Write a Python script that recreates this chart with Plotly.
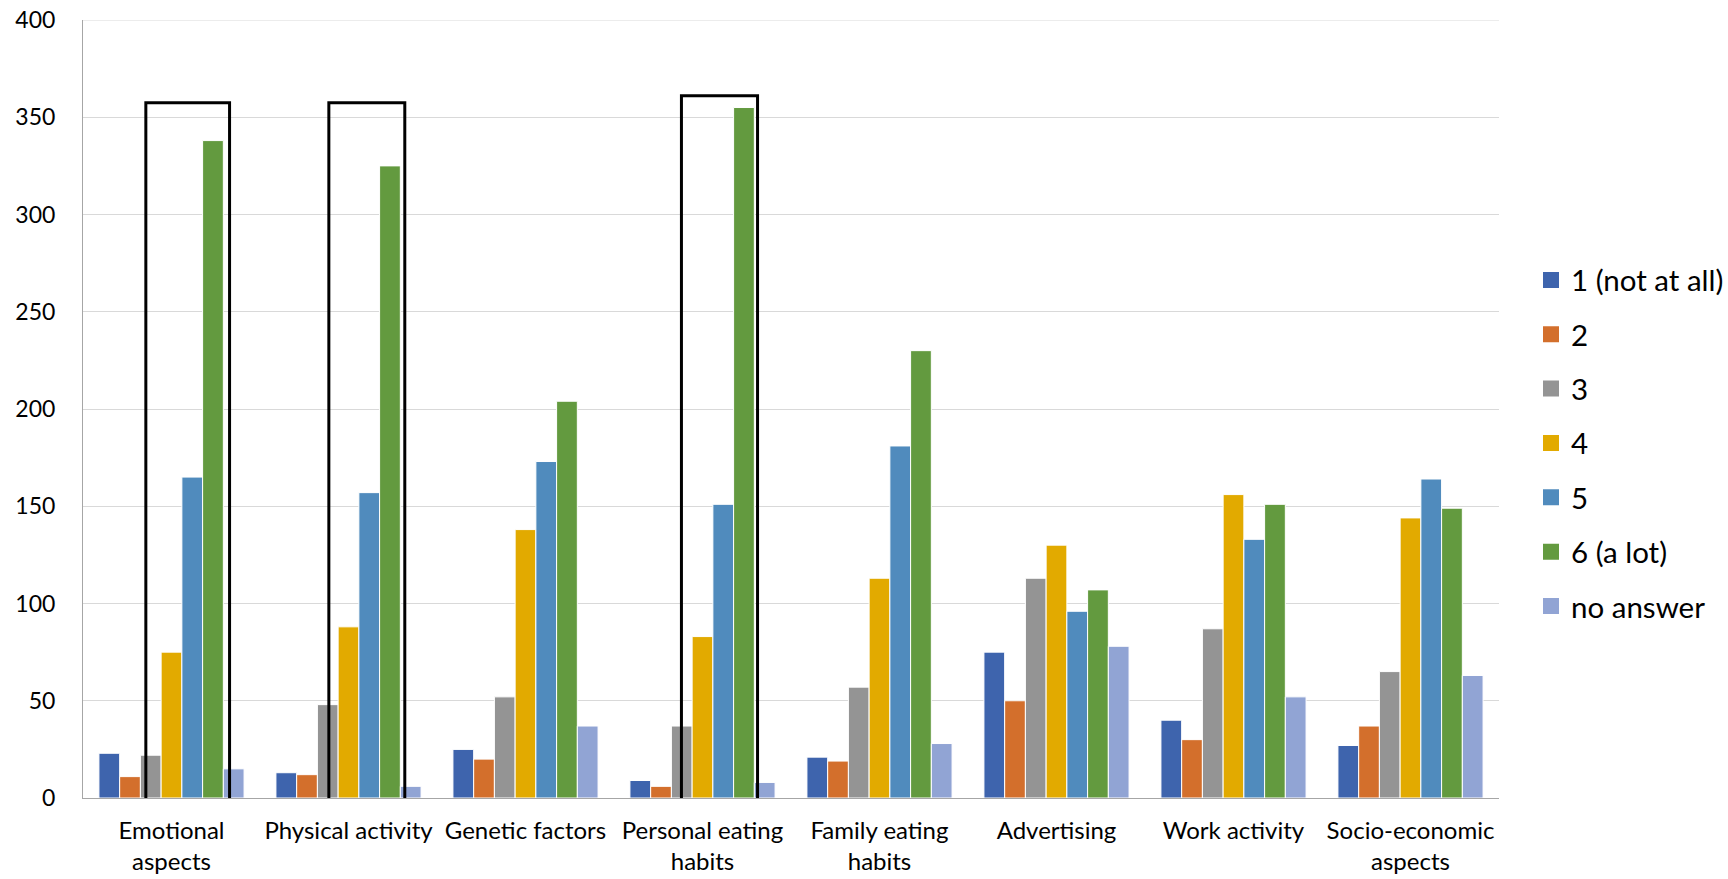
import plotly.graph_objects as go

categories = ["Emotional<br>aspects", "Physical activity", "Genetic factors",
              "Personal eating<br>habits", "Family eating<br>habits", "Advertising",
              "Work activity", "Socio-economic<br>aspects"]

s1 = [23, 13, 25, 9, 21, 75, 40, 27]
s2 = [11, 12, 20, 6, 19, 50, 30, 37]
s3 = [22, 48, 52, 37, 57, 113, 87, 65]
s4 = [75, 88, 138, 83, 113, 130, 156, 144]
s5 = [165, 157, 173, 151, 181, 96, 133, 164]
s6 = [338, 325, 204, 355, 230, 107, 151, 149]
s_na = [15, 6, 37, 8, 28, 78, 52, 63]

series_names = ["1 (not at all)", "2", "3", "4", "5", "6 (a lot)", "no answer"]
series_values = [s1, s2, s3, s4, s5, s6, s_na]
colors = ["#3E64AD", "#D36F2C", "#949494", "#E2AA00", "#508BBD", "#639A3F", "#91A4D4"]

y_max = 400

# highlighted categories (index) with box extents (offset in category units, value range)
box_cats = [0, 1, 3]
box_left = [-0.145, -0.111, -0.119]
box_right = [0.328, 0.318, 0.311]
box_top = [357.5, 357.5, 361]
box_bottom = [-6.2, -7.0, -6.2]

fig = go.Figure()
for i, (name, vals, col) in enumerate(zip(series_names, series_values, colors)):
    fig.add_trace(go.Bar(
        x=categories, y=vals, name=name, legendgroup="g%d" % i, showlegend=False,
        marker=dict(color=col, line=dict(color="white", width=1)),
    ))
    # legend proxy with a larger square swatch
    fig.add_trace(go.Scatter(
        x=[None], y=[None], mode="markers", name=name, legendgroup="g%d" % i,
        marker=dict(symbol="square", size=18, color=col),
    ))

# top gridline
fig.add_shape(type="line", xref="paper", yref="y", x0=0, x1=1, y0=y_max, y1=y_max,
              line=dict(color="#D9D9D9", width=1), layer="below")

for c, l, r, t, b in zip(box_cats, box_left, box_right, box_top, box_bottom):
    fig.add_shape(type="rect", xref="x", yref="y",
                  x0=c + l, x1=c + r, y0=b, y1=t,
                  line=dict(color="black", width=3), fillcolor="rgba(0,0,0,0)",
                  layer="above")

fig.update_layout(
    width=1760, height=879,
    paper_bgcolor="white", plot_bgcolor="white",
    barmode="group", bargap=0.18, bargroupgap=0,
    margin=dict(l=83, r=261, t=20, b=81),
    font=dict(family="Lato, Liberation Sans, Arial", color="black"),
    legend=dict(x=1.0226, xanchor="left", y=0.456, yanchor="middle",
                font=dict(size=29.5, color="black"), tracegroupgap=13,
                itemwidth=30, bgcolor="rgba(0,0,0,0)"),
    showlegend=True,
)
fig.update_yaxes(range=[0, y_max], dtick=50, showgrid=True, gridcolor="#D9D9D9", gridwidth=1,
                 showline=True, linecolor="#A6A6A6", linewidth=1, zeroline=False,
                 tickfont=dict(size=23, color="black"), ticks="", ticklabelstandoff=22,
                 ticklabeloverflow="allow", automargin=False)
fig.update_xaxes(showline=True, linecolor="#A6A6A6", linewidth=1, ticks="",
                 tickfont=dict(size=24, color="black"), range=[-0.5, 7.5],
                 ticklabelstandoff=11, automargin=False)

fig.write_html("out.html", config={"displayModeBar": False},
               post_script="document.body.style.margin='0px'; document.body.style.overflow='hidden';")
